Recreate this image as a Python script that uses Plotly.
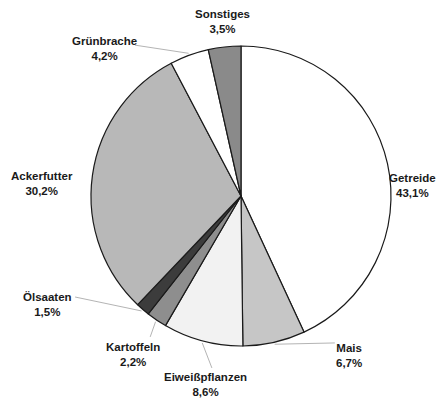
import math
import plotly.graph_objects as go

# Anteile der Kulturen an der Ackerfläche (%)
kulturen = ["Getreide", "Mais", "Eiweißpflanzen", "Kartoffeln", "Ölsaaten",
            "Ackerfutter", "Grünbrache", "Sonstiges"]
anteile = [43.1, 6.7, 8.6, 2.2, 1.5, 30.2, 4.2, 3.5]
farben = ["#ffffff", "#c6c6c6", "#f2f2f2", "#8e8e8e", "#3c3c3c",
          "#b8b8b8", "#ffffff", "#8a8a8a"]

# label positions in paper coordinates (centre x, top y)
label_pos = {
    "Getreide": (0.922, 0.578),
    "Mais": (0.781, 0.156),
    "Eiweißpflanzen": (0.459, 0.084),
    "Kartoffeln": (0.298, 0.158),
    "Ölsaaten": (0.107, 0.282),
    "Ackerfutter": (0.094, 0.583),
    "Grünbrache": (0.233, 0.918),
    "Sonstiges": (0.497, 0.985),
}
# where each leader line leaves its label (paper coords); None = no line
leader_start = {
    "Getreide": None,
    "Mais": (0.749, 0.149),
    "Eiweißpflanzen": (0.474, 0.087),
    "Kartoffeln": (0.336, 0.164),
    "Ölsaaten": (0.168, 0.263),
    "Ackerfutter": None,
    "Grünbrache": (0.302, 0.888),
    "Sonstiges": None,
}

W, H = 447, 403
cx_px, cy_px, r_px = 241, 196, 150

fig = go.Figure(go.Pie(
    labels=kulturen,
    values=anteile,
    sort=False,
    direction="clockwise",
    rotation=0,
    marker=dict(colors=farben, line=dict(color="#1a1a1a", width=1.2)),
    textinfo="none",
    hoverinfo="label+value",
    showlegend=False,
    domain=dict(x=[(cx_px - r_px) / W, (cx_px + r_px) / W],
                y=[(H - cy_px - r_px) / H, (H - cy_px + r_px) / H]),
))

total = sum(anteile)
cum = 0.0
for name, val in zip(kulturen, anteile):
    mid = (cum + val / 2) / total * 2 * math.pi
    cum += val
    lx, ly = label_pos[name]
    txt = f"<b>{name}</b><br><b>{str(val).replace('.', ',')}%</b>"
    fig.add_annotation(x=lx, y=ly, xref="paper", yref="paper",
                       text=txt, showarrow=False, xanchor="center",
                       yanchor="top", align="center",
                       font=dict(family="Liberation Sans, Arial", size=11.5,
                                 color="#1a1a1a"))
    start = leader_start[name]
    if start is not None:
        # rim point at the slice's middle angle
        rx = (cx_px + (r_px + 2) * math.sin(mid)) / W
        ry = (H - cy_px + (r_px + 2) * math.cos(mid)) / H
        fig.add_shape(type="line", xref="paper", yref="paper",
                      x0=start[0], y0=start[1], x1=rx, y1=ry,
                      line=dict(color="#b4b4b4", width=1))

fig.update_layout(width=W, height=H, margin=dict(l=0, r=0, t=0, b=0),
                  paper_bgcolor="white", plot_bgcolor="white")
fig.write_html("out.html")
